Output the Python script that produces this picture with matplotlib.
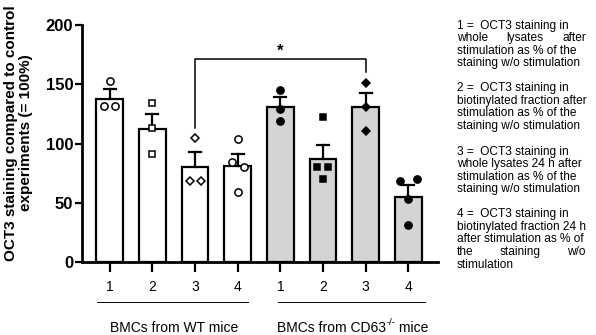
import matplotlib
matplotlib.use("Agg")
import matplotlib.pyplot as plt

plt.rcParams['font.family'] = ['Liberation Sans', 'DejaVu Sans']

# bar means and upper error (SEM) tops
wt_means = [138, 112, 80, 81]
wt_err = [8, 13, 13, 10]
cd_means = [131, 87, 131, 55]
cd_err = [8, 12, 12, 10]

# individual points: (x offset, value)
wt_points = [
    [(0, 153), (-0.13, 132), (0.13, 132)],
    [(0, 134), (0, 113), (0, 91)],
    [(0, 105), (-0.13, 68), (0.13, 68)],
    [(0, 104), (-0.14, 84), (0.14, 80), (0, 59)],
]
cd_points = [
    [(0, 145), (0, 129), (0, 119)],
    [(0, 122), (-0.13, 80), (0.13, 80), (0, 70)],
    [(0, 151), (0, 131), (0, 111)],
    [(-0.2, 68), (0.2, 70), (0, 53), (0, 31)],
]
markers = ['o', 's', 'D', 'o']
tick_labels = ['1', '2', '3', '4', '1', '2', '3', '4']

legend_blocks = [
    [("1 =  OCT3 staining in", False), ("whole lysates after", True),
     ("stimulation as % of the", False), ("staining w/o stimulation", False)],
    [("2 =  OCT3 staining in", False), ("biotinylated fraction after", False),
     ("stimulation as % of the", False), ("staining w/o stimulation", False)],
    [("3 =  OCT3 staining in", False), ("whole lysates 24 h after", False),
     ("stimulation as % of the", False), ("staining w/o stimulation", False)],
    [("4 =  OCT3 staining in", False), ("biotinylated fraction 24 h", False),
     ("after stimulation as % of", False), ("the staining w/o", True),
     ("stimulation", False)],
]

fig = plt.figure(figsize=(5.96, 3.35), dpi=100)
ax = fig.add_axes([0.137, 0.218, 0.598, 0.707])

x_wt = [0, 1, 2, 3]
x_cd = [4, 5, 6, 7]
lw = 1.6
ax.bar(x_wt, wt_means, width=0.63, color='white', edgecolor='black', linewidth=lw, zorder=2)
ax.bar(x_cd, cd_means, width=0.63, color='#d4d4d4', edgecolor='black', linewidth=lw, zorder=2)
for xs, m, e in [(x_wt, wt_means, wt_err), (x_cd, cd_means, cd_err)]:
    for xi, mi, ei in zip(xs, m, e):
        ax.plot([xi, xi], [mi, mi + ei], color='black', lw=lw, zorder=3)
        ax.plot([xi - 0.14, xi + 0.14], [mi + ei, mi + ei], color='black', lw=lw, zorder=3)

for xs, pts, filled in [(x_wt, wt_points, False), (x_cd, cd_points, True)]:
    for xi, group, mk in zip(xs, pts, markers):
        px = [xi + d for d, v in group]
        py = [v for d, v in group]
        ms = 5.2 if mk != 'D' else 4.2
        if mk == 's':
            ms = 4.8
        ax.plot(px, py, linestyle='none', marker=mk, markersize=ms,
                markerfacecolor='black' if filled else 'white',
                markeredgecolor='black', markeredgewidth=1.1, zorder=4)

# significance bracket
ax.plot([2, 2, 6, 6], [113, 171, 171, 160], color='black', lw=1.1, zorder=3)
ax.text(4.0, 172, '*', ha='center', va='bottom', fontsize=12, fontweight='bold')

ax.set_xlim(-0.66, 7.7)
ax.set_ylim(0, 200)
ax.set_yticks([0, 50, 100, 150, 200])
ax.set_xticks(x_wt + x_cd)
ax.set_xticklabels(tick_labels, fontsize=10)
for lab in ax.get_yticklabels():
    lab.set_fontweight('bold')
    lab.set_fontsize(12)
ax.tick_params(axis='y', width=lw, length=5, pad=1)
ax.tick_params(axis='x', width=lw, length=7, pad=6)
ax.spines['top'].set_visible(False)
ax.spines['right'].set_visible(False)
ax.spines['left'].set_linewidth(lw + 0.4)
ax.spines['bottom'].set_linewidth(lw + 0.4)
ax.set_ylabel('OCT3 staining compared to control\nexperiments (= 100%)',
              fontsize=11, fontweight='bold', linespacing=1.05)
ax.yaxis.set_label_coords(-0.137, 0.545)

# group lines and labels
xf = ax.get_xaxis_transform()
ax.plot([-0.3, 3.25], [-0.17, -0.17], transform=xf, color='black', lw=0.7, clip_on=False)
ax.plot([3.95, 7.4], [-0.17, -0.17], transform=xf, color='black', lw=0.7, clip_on=False)
ax.text(1.5, -0.28, 'BMCs from WT mice', transform=xf,
        ha='center', va='center', fontsize=10)

renderer = fig.canvas.get_renderer()
main = ax.text(5.7, -0.28, 'BMCs from CD63', transform=xf,
               ha='center', va='center', fontsize=10)
sup = fig.text(0, 0, '-/-', fontsize=6.8, va='bottom', ha='left')
bb_main = main.get_window_extent(renderer)
bb_sup = sup.get_window_extent(renderer)
tail = fig.text(0, 0, ' mice', fontsize=10, va='center', ha='left')
bb_tail = tail.get_window_extent(renderer)
total = bb_main.width + bb_sup.width + bb_tail.width
cx = (bb_main.x0 + bb_main.x1) / 2
start = cx - total / 2
cy = (bb_main.y0 + bb_main.y1) / 2
main.set_transform(None)
main.set_ha('left')
main.set_position((start, cy))
sup.set_transform(None)
sup.set_position((start + bb_main.width, cy + 1))
tail.set_transform(None)
tail.set_position((start + bb_main.width + bb_sup.width, cy))

# right-hand description, some lines justified
left_px, right_px = 457, 586
y_px = 19.5
fs = 8.6
line_h = 12.5
for block in legend_blocks:
    for txt, justify in block:
        yf = 1 - y_px / 335
        if not justify:
            fig.text(left_px / 596, yf, txt, fontsize=fs, va='top', ha='left')
        else:
            words = txt.split()
            objs = [fig.text(0, yf, w, fontsize=fs, va='top', ha='left') for w in words]
            widths = [o.get_window_extent(renderer).width for o in objs]
            gap = (right_px - left_px - sum(widths)) / (len(words) - 1)
            xp = left_px
            for o, w in zip(objs, widths):
                o.set_x(xp / 596)
                xp += w + gap
        y_px += line_h
    y_px += 13

fig.savefig('out.png', dpi=100)
